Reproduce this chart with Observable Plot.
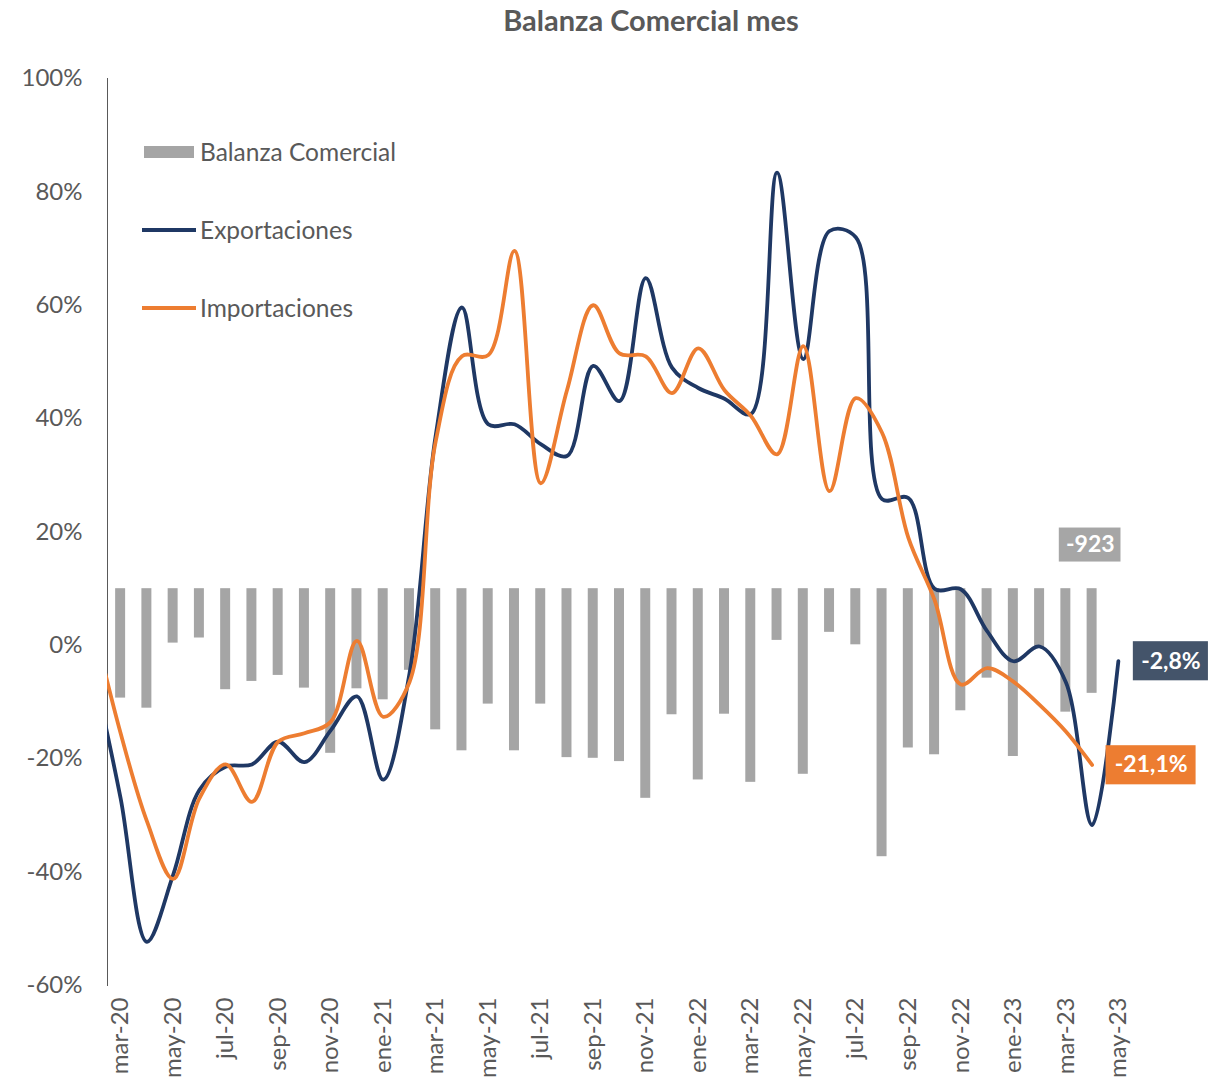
<!DOCTYPE html>
<html>
<head>
<meta charset="utf-8">
<script src="https://cdn.jsdelivr.net/npm/d3@7"></script>
<script src="https://cdn.jsdelivr.net/npm/@observablehq/plot@0.6"></script>
<style>
  body { margin: 0; background: #fff; font-family: Lato, "Open Sans", sans-serif; }
  #wrap { position: relative; width: 1214px; height: 1081px; overflow: hidden; }
  #title { box-sizing: border-box; width: 1214px; height: 40px; padding-left: 88px; text-align: center;
           font-weight: bold; font-size: 29px; color: #595959; line-height: 40px; }
  .sw { position: absolute; }
  .lt { position: absolute; font-size: 24.5px; color: #595959; line-height: 30px; white-space: nowrap; }
</style>
</head>
<body>
<div id="wrap">
  <div id="title">Balanza Comercial mes</div>
  <div id="chart"></div>
  <div class="sw" style="left:144px;top:146px;width:50px;height:12px;background:#a5a5a5"></div>
  <div class="lt" style="left:200px;top:137px">Balanza Comercial</div>
  <div class="sw" style="left:142px;top:228px;width:54px;height:4px;background:#1f3864"></div>
  <div class="lt" style="left:200px;top:215px">Exportaciones</div>
  <div class="sw" style="left:142px;top:306px;width:54px;height:4px;background:#ed7d31"></div>
  <div class="lt" style="left:200px;top:293px">Importaciones</div>
</div>
<script>
// Months (feb-20 only feeds the left edge of the lines; it lies outside the visible axis)
const months = ["feb-20","mar-20","abr-20","may-20","jun-20","jul-20","ago-20","sep-20","oct-20","nov-20","dic-20",
  "ene-21","feb-21","mar-21","abr-21","may-21","jun-21","jul-21","ago-21","sep-21","oct-21","nov-21","dic-21",
  "ene-22","feb-22","mar-22","abr-22","may-22","jun-22","jul-22","ago-22","sep-22","oct-22","nov-22","dic-22",
  "ene-23","feb-23","mar-23","abr-23","may-23"];

// Balanza comercial (millones USD, eje secundario)
const balanza = [null, -965, -1054, -480, -435, -891, -818, -765, -877, -1452, -883,
  -980, -720, -1245, -1430, -1018, -1430, -1018, -1490, -1496, -1525, -1849, -1112,
  -1687, -1107, -1708, -456, -1637, -385, -495, -2364, -1405, -1465, -1077, -789,
  -1480, -524, -1089, -923, null];

// Exportaciones, variación % interanual
const exportaciones = [-5, -27, -52.3, -40.5, -25.5, -21.4, -21, -17, -20.6, -15, -9,
  -23.7, -5, 37, 59.6, 39, 39, 35.5, 33.4, 49.3, 43.1, 64.8, 49,
  45.4, 43.5, 40.8, 83.4, 50.5, 73.1, 72, 25.8, 26, 10, 9.9, 2.5,
  -2.8, -0.2, -6.5, -31.7, -2.8];

// Importaciones, variación % interanual
const importaciones = [3, -15.5, -31, -41.2, -27, -21, -27.6, -17, -15.5, -13.5, 0.8,
  -12.6, -6.5, 36, 51, 51.2, 69.6, 28.6, 45, 60, 51.5, 51, 44.5,
  52.4, 45, 40.5, 33.7, 52.8, 27.2, 43.6, 37.5, 19, 8, -6.9, -4,
  -6.4, -10.5, -15.2, -21.1, null];

const yTicks = [-60, -40, -20, 0, 20, 40, 60, 80, 100];
const xTickLabels = ["mar-20","may-20","jul-20","sep-20","nov-20","ene-21","mar-21","may-21","jul-21","sep-21",
  "nov-21","ene-22","mar-22","may-22","jul-22","sep-22","nov-22","ene-23","mar-23","may-23"];

// secondary axis mapping: 0 of balanza sits at 10% on the primary axis, 50 units per %
const BAL_ZERO = 10, BAL_PER_PCT = 50;
const balY = v => BAL_ZERO + v / BAL_PER_PCT;

const balData = months.map((m, i) => ({i, v: balanza[i]})).filter(d => d.v != null);
const expData = months.map((m, i) => ({i, v: exportaciones[i]})).filter(d => d.v != null);
const impData = months.map((m, i) => ({i, v: importaciones[i]})).filter(d => d.v != null);
const lastExp = expData[expData.length - 1];
const lastImp = impData[impData.length - 1];
const lastBal = balData[balData.length - 1];
const fmtPct = v => v.toFixed(1).replace(".", ",") + "%";

const chart = Plot.plot({
  width: 1214,
  height: 1041,
  marginTop: 38,
  marginBottom: 96,
  marginLeft: 107,
  marginRight: 83,
  style: {fontFamily: "Lato, 'Open Sans', sans-serif", fontSize: "24px", color: "#595959", background: "transparent", overflow: "visible"},
  x: {type: "linear", domain: [0.5, months.length - 0.5], ticks: xTickLabels.map(l => months.indexOf(l)),
      tickFormat: i => months[i], tickRotate: -90, tickSize: 0, tickPadding: 12, label: null},
  y: {domain: [-60, 100], ticks: yTicks, tickFormat: d => d + "%", tickSize: 0, tickPadding: 25, line: true, label: null},
  marks: [
    Plot.rect(balData, {x1: d => d.i - 0.19, x2: d => d.i + 0.19, y1: () => balY(0), y2: d => balY(d.v), fill: "#a5a5a5"}),
    Plot.line(expData, {x: "i", y: "v", stroke: "#1f3864", strokeWidth: 3.8, curve: "catmull-rom", clip: true}),
    Plot.line(impData, {x: "i", y: "v", stroke: "#ed7d31", strokeWidth: 3.8, curve: "catmull-rom", clip: true}),
    // data labels
    Plot.rect([lastBal], {x1: d => d.i - 1.25, x2: d => d.i + 1.1, y1: () => balY(0) + 4.7, y2: () => balY(0) + 10.7, fill: "#a6a6a6"}),
    Plot.text([lastBal], {x: d => d.i - 0.07, y: () => balY(0) + 7.7, text: d => String(d.v), fill: "white", fontWeight: "bold", fontSize: 23}),
    Plot.rect([lastExp], {x1: d => d.i + 0.57, x2: d => d.i + 3.43, y1: d => d.v - 3.45, y2: d => d.v + 3.45, fill: "#44546a"}),
    Plot.text([lastExp], {x: d => d.i + 2.0, y: "v", text: d => fmtPct(d.v), fill: "white", fontWeight: "bold", fontSize: 23}),
    Plot.rect([lastImp], {x1: d => d.i + 0.53, x2: d => d.i + 3.96, y1: d => d.v - 3.5, y2: d => d.v + 3.4, fill: "#ed7d31"}),
    Plot.text([lastImp], {x: d => d.i + 2.25, y: "v", text: d => fmtPct(d.v), fill: "white", fontWeight: "bold", fontSize: 23})
  ]
});
document.getElementById("chart").appendChild(chart);
</script>
</body>
</html>
